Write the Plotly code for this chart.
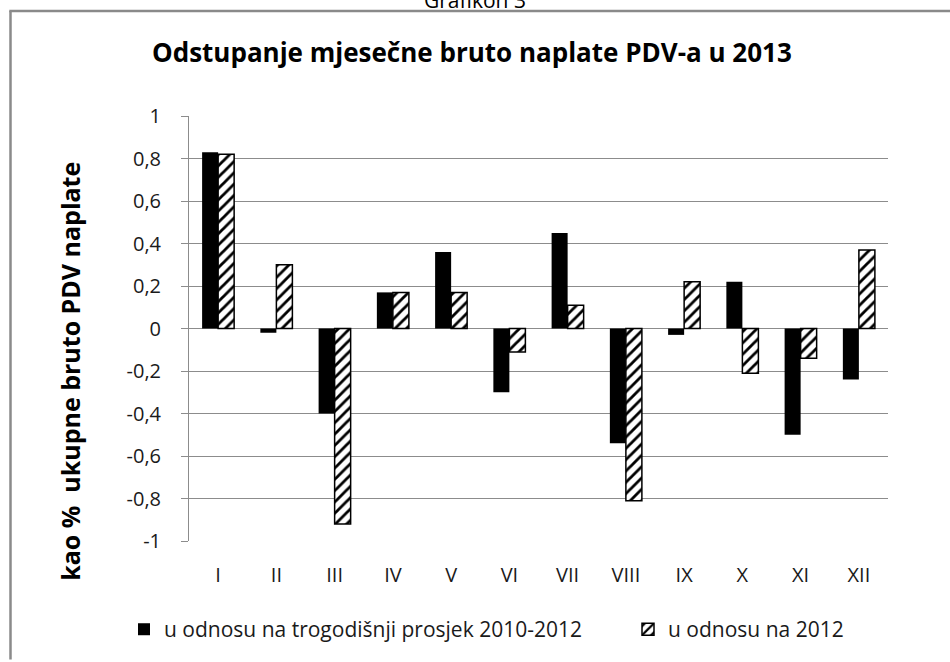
import plotly.graph_objects as go

months = ["I", "II", "III", "IV", "V", "VI", "VII", "VIII", "IX", "X", "XI", "XII"]
vs_avg = [0.83, -0.02, -0.40, 0.17, 0.36, -0.30, 0.45, -0.54, -0.03, 0.22, -0.50, -0.24]
vs_2012 = [0.82, 0.30, -0.92, 0.17, 0.17, -0.11, 0.11, -0.81, 0.22, -0.21, -0.14, 0.37]
y_ticks = [-1, -0.8, -0.6, -0.4, -0.2, 0, 0.2, 0.4, 0.6, 0.8, 1]
y_ticktext = ["-1", "-0,8", "-0,6", "-0,4", "-0,2", "0", "0,2", "0,4", "0,6", "0,8", "1"]

name_avg = "u odnosu na trogodišnji prosjek 2010-2012"
name_2012 = "u odnosu na 2012"
title = "Odstupanje mjesečne bruto naplate PDV-a u 2013"
ytitle = "kao %  ukupne bruto PDV naplate"

FONT = "Open Sans"
GRID = "#8c8c8c"
TXT = "#1a1a1a"

fig = go.Figure()
fig.add_trace(go.Bar(x=months, y=vs_avg, name=name_avg, legend="legend",
                     marker=dict(color="black", line=dict(color="black", width=0))))
fig.add_trace(go.Bar(x=months, y=vs_2012, name=name_2012, legend="legend2",
                     marker=dict(color="white", line=dict(color="black", width=1.5),
                                 pattern=dict(shape="/", fgcolor="black", bgcolor="white",
                                              size=8, solidity=0.35, fillmode="replace"))))

# plot area: x 189..888, y 116..543
L, R, T, B = 189, 62, 116, 119
W, H = 950 - L - R, 662 - T - B
def px(x):
    return (x - L) / W
def py(y):
    return (662 - B - y) / H

fig.update_layout(
    width=950, height=662,
    margin=dict(l=L, r=R, t=T, b=B),
    paper_bgcolor="white", plot_bgcolor="white",
    barmode="group", bargap=0.45, bargroupgap=0,
    font=dict(family=FONT, color=TXT, size=20),
    showlegend=True,
    legend=dict(orientation="h", x=px(124), y=py(632), xanchor="left", yanchor="middle",
                font=dict(family=FONT, size=21, color=TXT), bgcolor="rgba(0,0,0,0)"),
    legend2=dict(orientation="h", x=px(628), y=py(632), xanchor="left", yanchor="middle",
                 font=dict(family=FONT, size=21, color=TXT), bgcolor="rgba(0,0,0,0)"),
    xaxis=dict(type="category", categoryarray=months, showline=False, ticks="",
               showgrid=False, zeroline=False, tickfont=dict(size=20, color=TXT),
               ticklabelstandoff=20),
    xaxis2=dict(overlaying="x", anchor="free", position=0.5, range=[-0.5, 11.5],
                tickmode="linear", tick0=-0.5, dtick=1, showticklabels=False,
                showline=True, linecolor=GRID, linewidth=1, ticks="outside",
                ticklen=6, tickcolor=GRID, showgrid=False, zeroline=False),
    yaxis=dict(range=[-1, 1], tickvals=y_ticks, ticktext=y_ticktext,
               showline=True, linecolor=GRID, linewidth=1, ticks="outside",
               ticklen=7, tickcolor=GRID, showgrid=True, gridcolor=GRID, gridwidth=1,
               zeroline=False, tickfont=dict(size=20, color=TXT), ticklabelstandoff=16),
)

fig.add_annotation(text=title, xref="paper", yref="paper", x=px(472), y=py(52),
                   xanchor="center", yanchor="middle", showarrow=False,
                   font=dict(family=FONT, size=26, color="black", weight="bold"))
fig.add_annotation(text=ytitle, xref="paper", yref="paper", x=px(70), y=py(373),
                   xanchor="center", yanchor="middle", showarrow=False, textangle=-90,
                   font=dict(family=FONT, size=25, color="black", weight="bold"))
fig.add_annotation(text="Grafikon 3", xref="paper", yref="paper", x=px(475), y=py(-1),
                   xanchor="center", yanchor="middle", showarrow=False,
                   font=dict(family=FONT, size=21, color="black"))
# outer frame (top and left edges visible in the reference)
BORDER = dict(color="#8a8a8a", width=2.5)
fig.add_shape(type="line", xref="paper", yref="paper",
              x0=px(9.3), x1=px(950), y0=py(10.5), y1=py(10.5), line=BORDER, layer="above")
fig.add_shape(type="line", xref="paper", yref="paper",
              x0=px(10.5), x1=px(10.5), y0=py(10.5), y1=py(662), line=BORDER, layer="above")

fig.write_html(
    "out.html", config={"displayModeBar": False},
    post_script=("document.documentElement.style.margin='0';"
                 "document.documentElement.style.overflow='hidden';"
                 "document.body.style.margin='0';document.body.style.overflow='hidden';"))
